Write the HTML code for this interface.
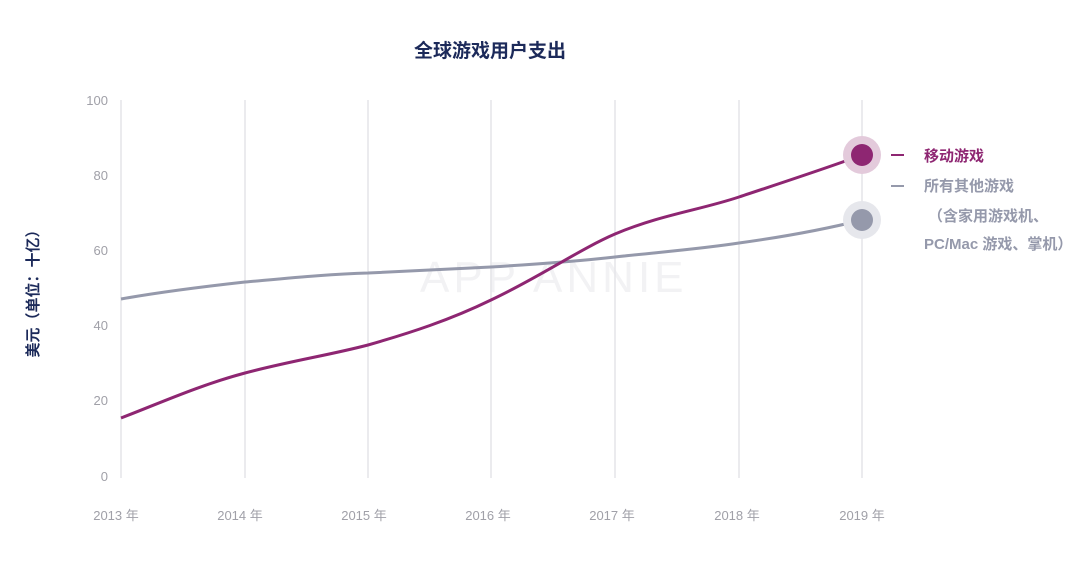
<!DOCTYPE html>
<html><head><meta charset="utf-8"><style>
body{margin:0;background:#fff;width:1080px;height:566px;overflow:hidden}
svg text{font-family:"Liberation Sans","Noto Sans CJK SC",sans-serif}
</style></head><body>
<svg width="1080" height="566" viewBox="0 0 1080 566">
<text x="490" y="57" text-anchor="middle" font-size="19" font-weight="bold" fill="#1c2a5a">全球游戏用户支出</text>
<text x="420" y="292" font-size="44" fill="#f2f2f4" letter-spacing="4">APP ANNIE</text>
<g stroke="#e6e6e9" stroke-width="1.6">
<line x1="121" y1="100" x2="121" y2="478"/><line x1="245" y1="100" x2="245" y2="478"/>
<line x1="368" y1="100" x2="368" y2="478"/><line x1="491" y1="100" x2="491" y2="478"/>
<line x1="615" y1="100" x2="615" y2="478"/><line x1="739" y1="100" x2="739" y2="478"/>
<line x1="862" y1="100" x2="862" y2="478"/>
</g>
<g font-size="13" fill="#a0a0a8" text-anchor="end">
<text x="108" y="105">100</text><text x="108" y="180">80</text><text x="108" y="255">60</text>
<text x="108" y="330">40</text><text x="108" y="405">20</text><text x="108" y="481">0</text>
</g>
<g font-size="13" fill="#a0a0a8" text-anchor="middle">
<text x="116" y="520">2013 年</text><text x="240" y="520">2014 年</text><text x="364" y="520">2015 年</text>
<text x="488" y="520">2016 年</text><text x="612" y="520">2017 年</text><text x="737" y="520">2018 年</text><text x="862" y="520">2019 年</text>
</g>
<text transform="translate(38,290) rotate(-90)" text-anchor="middle" font-size="15" font-weight="bold" fill="#1c2a5a">美元（单位：十亿）</text>
<path d="M121,299 C160,292 200,287 245,282 C290,278 330,274 368,273 C410,271 450,269 491,267 C540,264 580,261 615,257 C660,252 700,249 739,243 C790,236 830,228 862,220" fill="none" stroke="#9599ab" stroke-width="3"/>
<path d="M121,418 C160,403 200,385 245,373 C290,361 330,355 368,345 C410,333 450,320 491,300 C540,277 580,249 615,234 C660,215 700,210 739,197 C790,180 830,167 862,155" fill="none" stroke="#8e2672" stroke-width="3"/>
<circle cx="862" cy="155" r="19" fill="#e3cadb"/><circle cx="862" cy="155" r="11" fill="#8e2672"/>
<circle cx="862" cy="220" r="19" fill="#e6e7ec"/><circle cx="862" cy="220" r="11" fill="#9599ab"/>
<line x1="891" y1="155" x2="904" y2="155" stroke="#8e2672" stroke-width="2"/>
<line x1="891" y1="186" x2="904" y2="186" stroke="#9599ab" stroke-width="2"/>
<g font-size="15" font-weight="bold">
<text x="924" y="161" fill="#8e2672">移动游戏</text>
<text x="924" y="191" fill="#9599ab">所有其他游戏</text>
<text x="928" y="221" fill="#9599ab">（含家用游戏机、</text>
<text x="924" y="249" fill="#9599ab">PC/Mac 游戏、掌机）</text>
</g>
</svg>
</body></html>
